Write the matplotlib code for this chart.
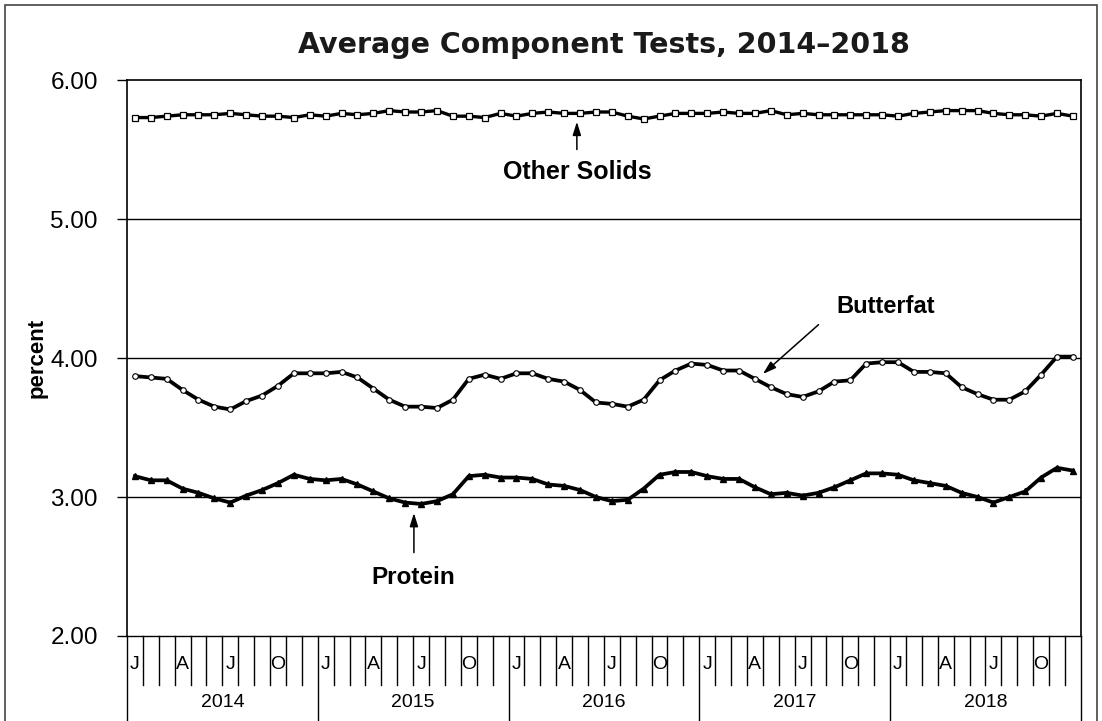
import numpy as np
import matplotlib
matplotlib.use("Agg")
import matplotlib.pyplot as plt
from matplotlib.patches import Rectangle

# monthly averages, Jan 2014 .. Dec 2018
years = ["2014", "2015", "2016", "2017", "2018"]
month_letters = ["J", "", "", "A", "", "", "J", "", "", "O", "", ""]

other_solids = [5.73, 5.73, 5.74, 5.75, 5.75, 5.75, 5.76, 5.75, 5.74, 5.74, 5.73, 5.75,
                5.74, 5.76, 5.75, 5.76, 5.78, 5.77, 5.77, 5.78, 5.74, 5.74, 5.73, 5.76,
                5.74, 5.76, 5.77, 5.76, 5.76, 5.77, 5.77, 5.74, 5.72, 5.74, 5.76, 5.76,
                5.76, 5.77, 5.76, 5.76, 5.78, 5.75, 5.76, 5.75, 5.75, 5.75, 5.75, 5.75,
                5.74, 5.76, 5.77, 5.78, 5.78, 5.78, 5.76, 5.75, 5.75, 5.74, 5.76, 5.74]
butterfat = [3.87, 3.86, 3.85, 3.77, 3.70, 3.65, 3.63, 3.69, 3.73, 3.80, 3.89, 3.89,
             3.89, 3.90, 3.86, 3.78, 3.70, 3.65, 3.65, 3.64, 3.70, 3.85, 3.88, 3.85,
             3.89, 3.89, 3.85, 3.83, 3.77, 3.68, 3.67, 3.65, 3.70, 3.84, 3.91, 3.96,
             3.95, 3.91, 3.91, 3.85, 3.79, 3.74, 3.72, 3.76, 3.83, 3.84, 3.96, 3.97,
             3.97, 3.90, 3.90, 3.89, 3.79, 3.74, 3.70, 3.70, 3.76, 3.88, 4.01, 4.01]
protein = [3.15, 3.12, 3.12, 3.06, 3.03, 2.99, 2.96, 3.01, 3.05, 3.10, 3.16, 3.13,
           3.12, 3.13, 3.09, 3.04, 2.99, 2.96, 2.95, 2.97, 3.02, 3.15, 3.16, 3.14,
           3.14, 3.13, 3.09, 3.08, 3.05, 3.00, 2.97, 2.98, 3.06, 3.16, 3.18, 3.18,
           3.15, 3.13, 3.13, 3.07, 3.02, 3.03, 3.01, 3.03, 3.07, 3.12, 3.17, 3.17,
           3.16, 3.12, 3.10, 3.08, 3.03, 3.00, 2.96, 3.00, 3.04, 3.14, 3.21, 3.19]
y_ticks = [2.0, 3.0, 4.0, 5.0, 6.0]

plt.rcParams["font.family"] = ["Liberation Sans", "DejaVu Sans"]

fig = plt.figure(figsize=(11.02, 7.21), dpi=100)
ax = fig.add_axes([0.1152, 0.1179, 0.8656, 0.7711])

n = len(protein)
x = np.arange(n)

ax.plot(x, other_solids, color="black", lw=2.4, marker="s", ms=5,
        mfc="white", mec="black", mew=0.9, zorder=3)
ax.plot(x, butterfat, color="black", lw=2.7, marker="o", ms=4,
        mfc="white", mec="black", mew=0.8, zorder=3)
ax.plot(x, protein, color="black", lw=2.7, marker="^", ms=4,
        mfc="black", mec="black", zorder=3)

ax.set_xlim(-0.5, n - 0.5)
ax.set_ylim(2, 6)
ax.set_yticks(y_ticks)
ax.set_yticklabels(["%.2f" % v for v in y_ticks], fontsize=17.5)
ax.tick_params(axis="y", direction="out", length=7, width=1, pad=14)
ax.set_xticks([])
for v in y_ticks[1:-1]:
    ax.axhline(v, color="black", lw=1, zorder=1)
for s in ax.spines.values():
    s.set_linewidth(1.2)
ax.spines["bottom"].set_linewidth(1.0)

ax.set_ylabel("percent", fontsize=16, fontweight="bold")
ax.yaxis.set_label_coords(-0.083, 0.5)

# category axis: month cells and year groups
trans = ax.get_xaxis_transform()
for k in range(n + 1):
    if k % 12 == 0:
        ax.plot([k - 0.5, k - 0.5], [0, -0.2], transform=trans, color="black",
                lw=1, clip_on=False)
    else:
        ax.plot([k - 0.5, k - 0.5], [0, -0.088], transform=trans, color="black",
                lw=1, clip_on=False)
for k in range(n):
    lab = month_letters[k % 12]
    if lab:
        ax.text(k, -0.052, lab, transform=trans, ha="center", va="center",
                fontsize=14)
for i, yr in enumerate(years):
    ax.text(12 * i + 5.5, -0.119, yr, transform=trans, ha="center",
            va="center", fontsize=14)

# series labels with arrows
arrow = dict(arrowstyle="-|>,head_length=0.8,head_width=0.25", color="black",
             lw=1.1, shrinkA=0, shrinkB=0)
ax.annotate("", xy=(27.8, 5.70), xytext=(27.8, 5.50), arrowprops=arrow)
ax.text(27.8, 5.34, "Other Solids", ha="center", va="center", fontsize=18,
        fontweight="bold")
ax.annotate("", xy=(39.5, 3.885), xytext=(43.0, 4.24), arrowprops=arrow)
ax.text(47.2, 4.37, "Butterfat", ha="center", va="center", fontsize=17,
        fontweight="bold")
ax.annotate("", xy=(17.55, 2.885), xytext=(17.55, 2.60), arrowprops=arrow)
ax.text(17.5, 2.42, "Protein", ha="center", va="center", fontsize=17.5,
        fontweight="bold")

fig.text(0.548, 0.937, "Average Component Tests, 2014\u20132018", ha="center",
         va="center", fontsize=20.5, fontweight="bold", family="DejaVu Sans",
         color="#1a1a1a")

# outer frame of the chart area
fig.patches.append(Rectangle((5 / 1102, -0.05), 1092 / 1102, 1.05 - 5 / 721,
                             transform=fig.transFigure, fill=False,
                             edgecolor="#444444", lw=1.2))

fig.savefig("out.png", dpi=100)
